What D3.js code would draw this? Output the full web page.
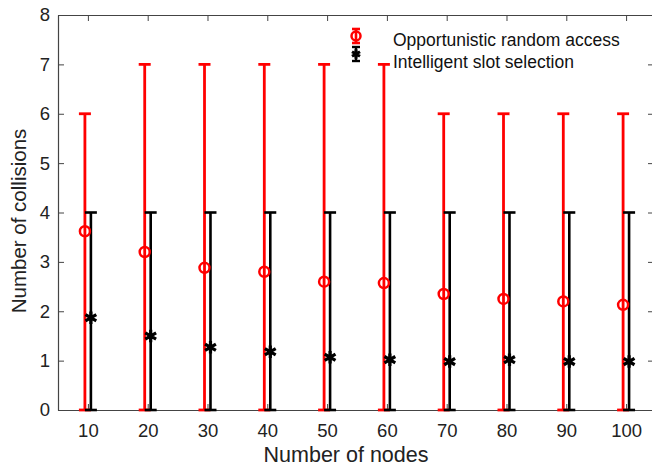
<!DOCTYPE html>
<html><head><meta charset="utf-8">
<script src="https://cdn.jsdelivr.net/npm/d3@7"></script>
<style>body{margin:0;background:#fff}svg{display:block}text{font-family:"Liberation Sans",Arial,sans-serif}</style>
</head><body><svg id="c" width="652" height="472"></svg>
<script>
const nodes = [10,20,30,40,50,60,70,80,90,100];
const randMean = [3.62,3.2,2.88,2.8,2.6,2.57,2.35,2.25,2.2,2.13];
const randLow = [0,0,0,0,0,0,0,0,0,0];
const randHigh = [6,7,7,7,7,7,6,6,6,6];
const slotMean = [1.87,1.5,1.27,1.18,1.07,1.02,0.98,1.02,0.98,0.98];
const slotLow = [0,0,0,0,0,0,0,0,0,0];
const slotHigh = [4,4,4,4,4,4,4,4,4,4];
const xTicks = [10,20,30,40,50,60,70,80,90,100];
const yTicks = [0,1,2,3,4,5,6,7,8];
const seriesNames = ["Opportunistic random access","Intelligent slot selection"];

const svg = d3.select("#c");
const L=58, R=653, T=15, B=410;
const x = d3.scaleLinear().domain([5,104.5]).range([L,R]);
const y = d3.scaleLinear().domain([0,8]).range([B,T]);
const axisCol="#444";

const gx = svg.append("g").attr("transform",`translate(0,${B})`)
  .call(d3.axisBottom(x).tickValues(xTicks).tickSizeInner(-6).tickSizeOuter(0).tickPadding(14));
const gxt = svg.append("g").attr("transform",`translate(0,${T})`)
  .call(d3.axisTop(x).tickValues(xTicks).tickSizeInner(-6).tickSizeOuter(0).tickFormat(""));
const gy = svg.append("g").attr("transform",`translate(${L},0)`)
  .call(d3.axisLeft(y).tickValues(yTicks).tickSizeInner(-6).tickSizeOuter(0).tickPadding(8));
const gyr = svg.append("g").attr("transform",`translate(${R},0)`)
  .call(d3.axisRight(y).tickValues(yTicks).tickSizeInner(-5).tickSizeOuter(0).tickFormat(""));
[gx,gxt,gy,gyr].forEach(g=>{
  g.selectAll("path").attr("stroke",axisCol).attr("stroke-width",1.2);
  g.selectAll("line").attr("stroke",axisCol).attr("stroke-width",1);
  g.selectAll("text").attr("fill","#222").style("font-size","18.5px").style("font-family","'Liberation Sans',Arial,sans-serif");
});

function errBars(mean, lo, hi, off, col, lw){
  const g = svg.append("g");
  nodes.forEach((n,i)=>{
    const cx = x(n+off);
    g.append("line").attr("x1",cx).attr("x2",cx).attr("y1",y(lo[i])).attr("y2",y(hi[i]))
      .attr("stroke",col).attr("stroke-width",lw);
    [lo[i],hi[i]].forEach(v=>{
      g.append("line").attr("x1",cx-6).attr("x2",cx+6).attr("y1",y(v)).attr("y2",y(v))
        .attr("stroke",col).attr("stroke-width",lw);
    });
  });
  return g;
}
errBars(randMean,randLow,randHigh,-0.5,"#ff0000",2.8);
errBars(slotMean,slotLow,slotHigh,0.5,"#000",2.6);

svg.append("g").selectAll("circle").data(nodes).join("circle")
  .attr("cx",d=>x(d-0.5)).attr("cy",(d,i)=>y(randMean[i])).attr("r",5)
  .attr("fill","none").attr("stroke","#ff0000").attr("stroke-width",2.5);
const ast = d3.symbol().type(d3.symbolAsterisk).size(110);
svg.append("g").selectAll("path").data(nodes).join("path")
  .attr("transform",(d,i)=>`translate(${x(d+0.5)},${y(slotMean[i])})`)
  .attr("d",ast).attr("fill","none").attr("stroke","#000").attr("stroke-width",3.2);

// legend
const lg = svg.append("g");
const lx=356, iconY=[36,54], textY=[46,68];
const legAst = d3.symbol().type(d3.symbolAsterisk).size(60);
[["#ff0000",2.6],["#000",2.4]].forEach(([c,w],k)=>{
  const cy=iconY[k];
  lg.append("line").attr("x1",lx).attr("x2",lx).attr("y1",cy-7).attr("y2",cy+7).attr("stroke",c).attr("stroke-width",w);
  [cy-7,cy+7].forEach(v=>lg.append("line").attr("x1",lx-4).attr("x2",lx+4).attr("y1",v).attr("y2",v).attr("stroke",c).attr("stroke-width",w));
  if(k===0) lg.append("circle").attr("cx",lx).attr("cy",cy).attr("r",4.5).attr("fill","none").attr("stroke",c).attr("stroke-width",2.5);
  else lg.append("path").attr("transform",`translate(${lx},${cy})`).attr("d",legAst).attr("fill","none").attr("stroke",c).attr("stroke-width",3);
  lg.append("text").attr("x",393).attr("y",textY[k]).text(seriesNames[k]).style("font-size","17.5px").attr("fill","#111");
});

svg.append("text").attr("x",346).attr("y",462).attr("text-anchor","middle")
  .style("font-size","21.5px").attr("fill","#222").text("Number of nodes");
svg.append("text").attr("transform",`translate(26,221) rotate(-90)`).attr("text-anchor","middle")
  .style("font-size","20.5px").attr("fill","#222").text("Number of collisions");
</script></body></html>
